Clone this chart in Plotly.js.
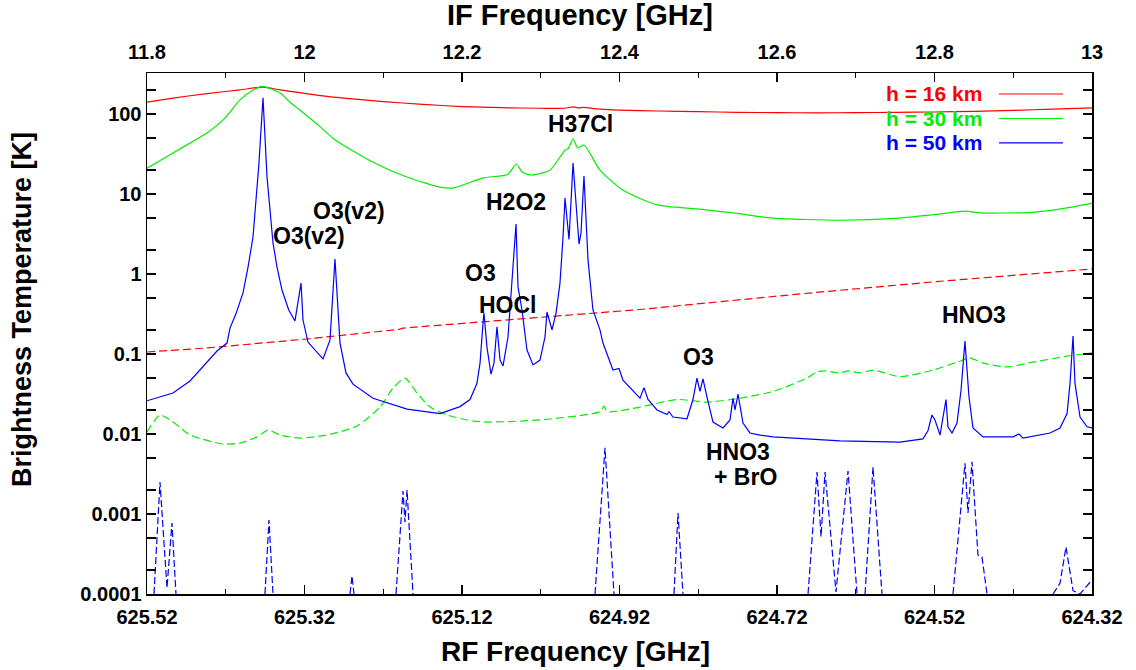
<!DOCTYPE html>
<html><head><meta charset="utf-8">
<script src="https://cdn.plot.ly/plotly-3.0.1.min.js"></script>
<style>html,body{margin:0;padding:0;background:#fff}#chart{width:1136px;height:670px}</style>
</head><body><div id="chart"></div>
<script>
// IF frequency [GHz] and brightness temperature [K]
const ifRed16 = [11.8, 11.833, 11.876, 11.918, 11.947, 11.969, 11.994, 12.02, 12.05, 12.1, 12.15, 12.2, 12.25, 12.3, 12.33, 12.341, 12.348, 12.355, 12.37, 12.4, 12.45, 12.5, 12.55, 12.6, 12.65, 12.7, 12.75, 12.8, 12.85, 12.9, 12.95, 13.0];
const tRed16  = [141, 158, 180, 200, 217, 200, 185, 170, 158, 143, 132, 124, 120, 118, 118, 123, 119, 121, 116, 112, 109, 107, 105, 104, 103.5, 104, 105, 106, 108, 111, 115, 119];

const ifGreen30 = [11.8, 11.833, 11.8546, 11.876, 11.899, 11.918, 11.935, 11.947, 11.969, 11.9816, 11.994, 12.02, 12.039, 12.087, 12.13, 12.172, 12.189, 12.227, 12.258, 12.269, 12.276, 12.283, 12.29, 12.312, 12.331, 12.335, 12.341, 12.347, 12.355, 12.375, 12.404, 12.448, 12.498, 12.544, 12.595, 12.68, 12.756, 12.798, 12.839, 12.858, 12.925, 12.968, 13.0];
const tGreen30  = [21, 32.5, 43.4, 58, 89, 150, 200, 222, 183, 140, 112, 69, 47.4, 25, 16.3, 12.2, 11.9, 15.9, 17.5, 23.7, 19, 17.6, 17.3, 20, 35.5, 37, 48.7, 37.6, 41, 20, 11.2, 7.3, 6.5, 5.8, 5.0, 4.7, 5.0, 5.5, 6.1, 5.8, 5.9, 6.7, 7.7];

const ifBlue50 = [11.8, 11.833, 11.8546, 11.876, 11.8889, 11.9016, 11.9054, 11.913, 11.9219, 11.9283, 11.9346, 11.9422, 11.9473, 11.9524, 11.96, 11.9651, 11.9714, 11.98, 11.9879, 11.9956, 11.9981, 12.0044, 12.0235, 12.0324, 12.0387, 12.0451, 12.0527, 12.0616, 12.087, 12.1302, 12.1721, 12.1975, 12.2102, 12.219, 12.2229, 12.2267, 12.2279, 12.2317, 12.2368, 12.2406, 12.2444, 12.2483, 12.2521, 12.2584, 12.2635, 12.2686, 12.2711, 12.2762, 12.2825, 12.2902, 12.299, 12.3054, 12.3079, 12.3143, 12.3194, 12.3244, 12.3283, 12.3308, 12.3359, 12.341, 12.3486, 12.3511, 12.3549, 12.36, 12.3663, 12.3752, 12.379, 12.3917, 12.3994, 12.4044, 12.426, 12.4311, 12.4362, 12.4476, 12.4603, 12.4629, 12.4679, 12.4857, 12.4933, 12.4984, 12.5022, 12.506, 12.5111, 12.5187, 12.5314, 12.5403, 12.5441, 12.5467, 12.5505, 12.5568, 12.5657, 12.5784, 12.5949, 12.68, 12.7562, 12.7854, 12.7917, 12.7968, 12.8006, 12.807, 12.8146, 12.8171, 12.8222, 12.8286, 12.8337, 12.8387, 12.8438, 12.8489, 12.8616, 12.8997, 12.9073, 12.9124, 12.9467, 12.9594, 12.9683, 12.9721, 12.9759, 12.9784, 12.9848, 12.9937, 13.0];
const tBlue50  = [0.026, 0.0325, 0.046, 0.08, 0.109, 0.137, 0.211, 0.32, 0.58, 1.22, 2.9, 24.4, 160, 16.3, 2.44, 1.22, 0.63, 0.355, 0.259, 0.77, 0.266, 0.141, 0.087, 0.15, 1.54, 0.137, 0.058, 0.042, 0.028, 0.0205, 0.018, 0.022, 0.027, 0.043, 0.077, 0.244, 0.325, 0.122, 0.056, 0.077, 0.218, 0.084, 0.071, 0.163, 0.77, 4.2, 0.69, 0.355, 0.112, 0.073, 0.084, 0.163, 0.335, 0.2, 0.325, 0.77, 2.9, 8.9, 2.7, 24.4, 2.37, 3.25, 16.8, 1.5, 0.355, 0.2, 0.137, 0.063, 0.066, 0.047, 0.028, 0.038, 0.027, 0.02, 0.0175, 0.019, 0.0163, 0.0155, 0.027, 0.05, 0.034, 0.049, 0.029, 0.0141, 0.0119, 0.015, 0.028, 0.02, 0.0316, 0.0137, 0.0103, 0.0097, 0.0092, 0.0082, 0.0079, 0.0087, 0.011, 0.0173, 0.015, 0.0097, 0.027, 0.0123, 0.0103, 0.0137, 0.0355, 0.145, 0.029, 0.0119, 0.0092, 0.0092, 0.0100, 0.0089, 0.0103, 0.0119, 0.018, 0.043, 0.168, 0.043, 0.0163, 0.0123, 0.0119];

const ifRedDash = [11.8, 11.876, 12.003, 12.12, 12.125, 12.3, 12.426, 12.63, 12.8, 13.0];
const tRedDash  = [0.106, 0.119, 0.154, 0.203, 0.211, 0.29, 0.36, 0.565, 0.8, 1.155];

const ifGreenDash = [11.8, 11.8165, 11.8317, 11.8546, 11.8965, 11.9181, 11.9397, 11.9537, 11.9689, 11.9943, 12.0286, 12.0667, 12.0959, 12.1124, 12.1276, 12.1429, 12.1594, 12.181, 12.214, 12.2356, 12.299, 12.3752, 12.3803, 12.3841, 12.426, 12.473, 12.5111, 12.553, 12.5949, 12.6381, 12.6508, 12.661, 12.68, 12.6902, 12.7054, 12.7219, 12.7562, 12.7981, 12.8286, 12.8451, 12.8616, 12.8921, 12.9251, 12.9683, 13.0];
const tGreenDash  = [0.0106, 0.0173, 0.0145, 0.0097, 0.0075, 0.0077, 0.0092, 0.0112, 0.0097, 0.0089, 0.0097, 0.0126, 0.0217, 0.0375, 0.05, 0.0325, 0.0217, 0.0173, 0.0145, 0.0141, 0.015, 0.019, 0.0223, 0.019, 0.0217, 0.027, 0.025, 0.028, 0.034, 0.05, 0.06, 0.0615, 0.058, 0.0615, 0.058, 0.063, 0.052, 0.063, 0.079, 0.089, 0.077, 0.069, 0.079, 0.094, 0.103];

const ifBlueDash = [11.8089, 11.8165, 11.8254, 11.8317, 11.8368, null, 11.9498, 11.9549, 11.96, null, 12.0578, 12.0603, 12.0629, null, 12.1162, 12.1251, 12.1276, 12.1302, 12.1378, null, 12.3689, 12.3816, 12.393, null, 12.4692, 12.4743, 12.4806, null, 12.6394, 12.6508, 12.6559, 12.661, 12.6749, 12.6902, 12.7016, null, 12.7118, 12.7219, 12.7333, null, 12.8235, 12.8387, 12.8425, 12.8476, 12.8552, 12.8603, 12.8667, null, 12.9505, 12.9594, 12.967, 12.9759, 12.9848, 12.9975, 13.0];
const tBlueDash  = [0.0001, 0.0025, 0.000119, 0.00077, 0.0001, null, 0.0001, 0.00084, 0.0001, null, 0.0001, 0.000168, 0.0001, null, 0.0001, 0.00194, 0.00079, 0.002, 0.0001, null, 0.0001, 0.0067, 0.0001, null, 0.0001, 0.00103, 0.0001, null, 0.0001, 0.00335, 0.00052, 0.00335, 0.000106, 0.00345, 0.0001, null, 0.0001, 0.00387, 0.0001, null, 0.0001, 0.0043, 0.00103, 0.0045, 0.000307, 0.00029, 0.0001, null, 0.0001, 0.000137, 0.000387, 0.00011, 0.0001, 0.000137, 0.00015];

const seriesNames = ['h = 16 km', 'h = 30 km', 'h = 50 km'];
const ifTickVals = [11.8, 12.0, 12.2, 12.4, 12.6, 12.8, 13.0];
const ifTickText = ['11.8', '12', '12.2', '12.4', '12.6', '12.8', '13'];
const rfTickVals = [625.52, 625.32, 625.12, 624.92, 624.72, 624.52, 624.32];
const rfTickText = ['625.52', '625.32', '625.12', '624.92', '624.72', '624.52', '624.32'];
const yTickVals = [0.0001, 0.001, 0.01, 0.1, 1, 10, 100];
const yTickText = ['0.0001', '0.001', '0.01', '0.1', '1', '10', '100'];
const lineLabels = ['O3', 'O3(v2)', 'O3(v2)', 'H2O2', 'H37Cl', 'O3', 'HOCl', 'O3', 'HNO3', '+ BrO', 'HNO3'];
const axisTitles = ['IF Frequency [GHz]', 'RF Frequency [GHz]', 'Brightness Temperature [K]'];

const RED = '#ff0000', GREEN = '#00ee00', BLUE = '#0000ff';
const FONT = 'Liberation Sans, Arial, sans-serif';

function tr(x, y, color, dash, name, shape) {
  return {x: x, y: y, xaxis: 'x2', yaxis: 'y', type: 'scatter', mode: 'lines', name: name,
    line: {color: color, width: 1.2, dash: dash, shape: shape || 'linear', smoothing: 0.6},
    connectgaps: false, showlegend: false, hoverinfo: 'skip'};
}
const data = [
  // empty helper so the bottom (RF) axis is drawn
  {x: rfTickVals, y: rfTickVals.map(() => null), xaxis: 'x', yaxis: 'y', type: 'scatter', mode: 'lines',
   showlegend: false, hoverinfo: 'skip', line: {width: 0}},
  tr(ifRedDash, tRedDash, RED, '8px,4px', 'red dashed'),
  tr(ifGreenDash, tGreenDash, GREEN, '8px,4px', 'green dashed', 'spline'),
  tr(ifBlueDash, tBlueDash, BLUE, '7px,3px', 'blue dashed'),
  tr(ifRed16, tRed16, RED, 'solid', seriesNames[0], 'spline'),
  tr(ifGreen30, tGreen30, GREEN, 'solid', seriesNames[1], 'spline'),
  tr(ifBlue50, tBlue50, BLUE, 'solid', seriesNames[2])
];

// minor ticks on log axis at 2 and 5 per decade
const yMinor = [];
for (let e = -4; e <= 2; e++) { yMinor.push(2 * Math.pow(10, e)); yMinor.push(5 * Math.pow(10, e)); }
const rfMinor = [], ifMinor = [];
for (let k = 0; k < 6; k++) { rfMinor.push(625.42 - 0.2 * k); ifMinor.push(11.9 + 0.2 * k); }

const tickFont = {family: FONT, size: 20, color: '#000', weight: 'bold'};
const labFont = {family: FONT, size: 23, color: '#000', weight: 'bold'};

const labelPos = [
  [11.9486, 2.525], [12.0057, 0.475], [12.0565, 0.7875], [12.2686, 0.9], [12.3511, 1.875],
  [12.2241, 0.0125], [12.2584, -0.3875], [12.4997, -1.0375], [12.5505, -2.225], [12.5594, -2.5375], [12.8502, -0.5125]
];
const annotations = lineLabels.map((t, i) => ({
  text: t, x: labelPos[i][0], y: labelPos[i][1], xref: 'x2', yref: 'y', showarrow: false,
  font: labFont, xanchor: 'center', yanchor: 'middle'
}));
// axis titles
annotations.push({text: axisTitles[0], x: 0.4582, y: 1.1113, xref: 'paper', yref: 'paper', showarrow: false,
  xanchor: 'center', yanchor: 'middle', font: {family: FONT, size: 29, color: '#000', weight: 'bold'}});
annotations.push({text: axisTitles[1], x: 0.4530, y: -0.1420, xref: 'paper', yref: 'paper', showarrow: false,
  xanchor: 'center', yanchor: 'bottom', borderpad: 0, font: {family: FONT, size: 28, color: '#000', weight: 'bold'}});
annotations.push({text: axisTitles[2], x: -0.1323, y: 0.547, xref: 'paper', yref: 'paper', showarrow: false,
  textangle: -90, xanchor: 'center', yanchor: 'middle', font: {family: FONT, size: 27, color: '#000', weight: 'bold'}});

const legColors = [RED, GREEN, BLUE];
const legY = [0.9597, 0.9127, 0.8657];
const shapes = [];
seriesNames.forEach((n, i) => {
  annotations.push({text: n, x: 0.8847, y: legY[i], xref: 'paper', yref: 'paper', showarrow: false,
    xanchor: 'right', yanchor: 'middle', borderpad: 0,
    font: {family: FONT, size: 21, color: legColors[i], weight: 'bold'}});
  shapes.push({type: 'line', xref: 'paper', yref: 'paper', x0: 0.9016, x1: 0.9693, y0: legY[i], y1: legY[i],
    line: {color: legColors[i], width: 1.2}});
});

const layout = {
  width: 1136, height: 670,
  margin: {l: 147, r: 44, t: 73, b: 76, pad: 0},
  paper_bgcolor: '#fff', plot_bgcolor: '#fff',
  showlegend: false,
  xaxis: {
    range: [625.52, 624.32], showgrid: false, zeroline: false,
    showline: true, linecolor: '#000', linewidth: 1.5, mirror: false,
    ticks: 'inside', ticklen: 9, tickcolor: '#000', tickwidth: 1.2, ticklabelstandoff: 4,
    tickmode: 'array', tickvals: rfTickVals, ticktext: rfTickText, tickfont: tickFont,
    minor: {tickmode: 'array', tickvals: rfMinor, ticks: 'inside', ticklen: 5, tickcolor: '#000', tickwidth: 1.2, showgrid: false},
    automargin: false, fixedrange: true
  },
  xaxis2: {
    range: [11.8, 13.0], overlaying: 'x', side: 'top', anchor: 'y', showgrid: false, zeroline: false,
    showline: true, linecolor: '#000', linewidth: 1.5,
    ticks: 'inside', ticklen: 9, tickcolor: '#000', tickwidth: 1.2, ticklabelstandoff: 5,
    tickmode: 'array', tickvals: ifTickVals, ticktext: ifTickText, tickfont: tickFont,
    minor: {tickmode: 'array', tickvals: ifMinor, ticks: 'inside', ticklen: 5, tickcolor: '#000', tickwidth: 1.2, showgrid: false},
    automargin: false, fixedrange: true
  },
  yaxis: {
    type: 'log', range: [-4, 2.5125], showgrid: false, zeroline: false,
    showline: true, linecolor: '#000', linewidth: 1.5, mirror: 'allticks',
    ticks: 'inside', ticklen: 9, tickcolor: '#000', tickwidth: 1.2,
    tickmode: 'array', tickvals: yTickVals, ticktext: yTickText, tickfont: tickFont,
    minor: {tickmode: 'array', tickvals: yMinor, ticks: 'inside', ticklen: 5, tickcolor: '#000', tickwidth: 1.2, showgrid: false},
    automargin: false, fixedrange: true
  },
  annotations: annotations,
  shapes: shapes
};

Plotly.newPlot('chart', data, layout, {staticPlot: true, displayModeBar: false});
</script></body></html>
